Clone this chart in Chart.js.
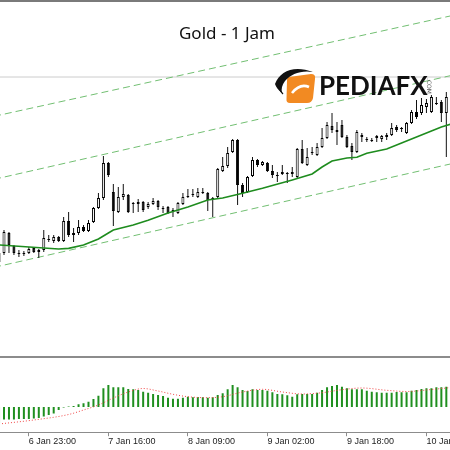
<!DOCTYPE html>
<html>
<head>
<meta charset="utf-8">
<title>Gold - 1 Jam</title>
<script src="https://cdn.jsdelivr.net/npm/chart.js@4.4.1/dist/chart.umd.min.js"></script>
<style>
    html, body { margin: 0; padding: 0; background: #fff; }
    #wrap { position: relative; width: 450px; height: 450px; overflow: hidden; background: #fff; }
    #priceCanvas { position: absolute; left: 0; top: 0; }
    #oscCanvas { position: absolute; left: 0; top: 358px; }
    #topBorder { position: absolute; left: 0; top: 0; width: 450px; border-top: 2px solid #7a7a7a; }
    #separator { position: absolute; left: 0; top: 356px; width: 450px; border-top: 2px solid #8c8c8c; }
    #chartTitle {
        position: absolute; left: 0; top: 23px; width: 454px; text-align: center;
        font-family: "Noto Sans", sans-serif; font-size: 17px; line-height: 20px; color: #111;
    }
    #logoIcon { position: absolute; left: 272px; top: 62px; }
    #logoText {
        position: absolute; left: 319px; top: 72px;
        font-family: Lato, sans-serif; font-weight: 700; font-size: 26px; line-height: 26px; color: #111;
    }
    #logoCom {
        position: absolute; left: 426px; top: 78px; writing-mode: vertical-rl;
        font-family: "DejaVu Sans", sans-serif; font-size: 6px; color: #555;
    }
</style>
</head>
<body>
<div id="wrap">
    <canvas id="priceCanvas" width="450" height="356"></canvas>
    <canvas id="oscCanvas" width="450" height="92"></canvas>
    <div id="topBorder"></div>
    <div id="separator"></div>
    <div id="chartTitle">Gold - 1 Jam</div>
    <svg id="logoIcon" width="46" height="44" viewBox="0 0 46 44">
        <path d="M17 15 L39 12 Q44 12 43 17 L41 36 Q40 41 35 41 L18 41 Q14 41 14.5 37 L15 19 Q15 15 17 15 Z" fill="#f28a22"/>
        <path d="M20 31 Q28 21 37 25" stroke="#fff" stroke-width="2.6" fill="none"/>
        <path d="M3 22 C 8 9, 22 3, 41 10 C 29 8, 19 12, 13 19 C 10 23, 9 27, 10 31 C 6 28, 4 25, 3 22 Z" fill="#111"/>
        <path d="M6 20 C 6 25, 8 29, 11 32" stroke="#111" stroke-width="1.2" fill="none"/>
    </svg>
    <div id="logoText">PEDIAFX</div>
    <div id="logoCom">.COM</div>
</div>
<script>
// hourly bars, first visible bar sits just off the left edge
const firstBar = -1;

const openPrices = [
    2641.4, 2644.1, 2650.1, 2646.2, 2644.1, 2643.8, 2644.1, 2645.6, 2644.4, 2645.0, 2648.0,
    2647.7, 2648.9, 2647.7, 2653.7, 2649.5, 2650.1, 2651.9, 2650.7, 2653.4, 2657.6,
    2660.6, 2671.1, 2662.4, 2656.4, 2660.9, 2661.5, 2659.1, 2658.8, 2659.4, 2657.9,
    2658.8, 2659.7, 2657.6, 2657.9, 2657.0, 2656.1, 2658.8, 2660.9, 2661.5, 2660.9,
    2662.1, 2662.1, 2660.0, 2660.9, 2668.7, 2670.2, 2674.4, 2678.0, 2664.5, 2662.4,
    2667.2, 2672.0, 2670.5, 2671.1, 2668.7, 2667.5, 2667.8, 2668.1, 2668.4, 2666.9,
    2675.3, 2670.5, 2674.1, 2673.5, 2675.9, 2678.6, 2682.2, 2681.0, 2682.5, 2678.9,
    2676.2, 2674.4, 2678.9, 2678.0, 2677.7, 2679.2, 2678.3, 2678.9, 2679.5, 2681.9,
    2681.3, 2680.1, 2683.1, 2686.4, 2686.1, 2687.9, 2686.4, 2688.8, 2689.4, 2686.1,
];
const highPrices = [
    2645.0, 2651.0, 2650.4, 2646.5, 2645.0, 2644.7, 2645.9, 2645.9, 2645.3, 2651.0, 2649.5,
    2649.5, 2649.2, 2654.9, 2656.4, 2651.6, 2654.0, 2652.5, 2654.0, 2657.9, 2662.1,
    2673.2, 2671.4, 2664.8, 2663.9, 2664.8, 2661.8, 2659.4, 2660.3, 2659.7, 2659.4,
    2660.6, 2660.0, 2658.2, 2658.2, 2657.6, 2659.4, 2662.1, 2663.3, 2663.3, 2663.6,
    2663.6, 2662.4, 2660.9, 2669.6, 2672.9, 2675.9, 2678.3, 2678.3, 2665.1, 2667.2,
    2672.9, 2672.3, 2671.7, 2671.4, 2670.5, 2668.4, 2670.5, 2668.4, 2669.9, 2675.6,
    2678.0, 2675.6, 2675.9, 2677.1, 2681.6, 2683.4, 2686.1, 2683.4, 2684.0, 2679.5,
    2677.1, 2681.0, 2680.1, 2678.9, 2678.6, 2679.5, 2679.5, 2680.1, 2683.1, 2682.5,
    2681.9, 2683.4, 2687.0, 2690.0, 2690.6, 2690.3, 2691.5, 2690.9, 2690.0, 2692.4,
];
const lowPrices = [
    2640.5, 2643.5, 2644.1, 2643.5, 2642.9, 2643.2, 2643.8, 2644.1, 2642.6, 2644.4, 2647.4,
    2647.1, 2647.4, 2647.4, 2648.9, 2647.4, 2649.5, 2650.4, 2650.4, 2653.1, 2657.3,
    2660.0, 2666.9, 2652.2, 2656.1, 2660.0, 2656.1, 2656.1, 2656.4, 2656.4, 2657.3,
    2658.5, 2657.0, 2656.1, 2655.8, 2654.9, 2655.8, 2658.5, 2660.6, 2660.9, 2660.6,
    2661.8, 2656.7, 2654.9, 2660.6, 2668.4, 2669.6, 2674.1, 2658.5, 2660.9, 2662.1,
    2666.9, 2669.9, 2670.2, 2668.4, 2666.6, 2665.4, 2667.5, 2665.1, 2666.9, 2666.6,
    2670.8, 2670.2, 2673.5, 2673.2, 2675.6, 2678.3, 2680.1, 2676.5, 2678.6, 2675.6,
    2672.0, 2674.1, 2677.4, 2677.4, 2677.4, 2677.4, 2677.4, 2678.0, 2679.2, 2680.4,
    2680.4, 2679.8, 2682.8, 2684.3, 2685.5, 2686.1, 2686.1, 2688.5, 2683.4, 2672.9,
];
const closePrices = [
    2644.1, 2650.4, 2646.5, 2644.1, 2643.8, 2644.1, 2645.3, 2644.4, 2645.0, 2648.6, 2648.3,
    2648.9, 2647.7, 2653.7, 2649.5, 2650.1, 2651.9, 2650.7, 2653.1, 2657.6, 2660.6,
    2671.1, 2667.5, 2656.7, 2660.9, 2661.8, 2656.4, 2658.8, 2659.4, 2657.0, 2658.8,
    2659.7, 2657.9, 2657.3, 2656.1, 2656.7, 2659.1, 2660.9, 2661.2, 2661.8, 2662.4,
    2662.4, 2660.0, 2660.6, 2669.3, 2670.2, 2674.1, 2678.0, 2664.5, 2662.1, 2666.9,
    2672.0, 2670.5, 2671.4, 2668.7, 2667.5, 2667.2, 2668.4, 2667.8, 2667.8, 2675.3,
    2671.1, 2672.9, 2674.4, 2675.9, 2678.6, 2682.5, 2681.0, 2680.4, 2678.9, 2675.9,
    2674.4, 2680.4, 2679.5, 2678.3, 2678.0, 2678.6, 2679.2, 2679.5, 2681.6, 2681.0,
    2681.6, 2683.1, 2686.4, 2684.9, 2688.5, 2689.1, 2690.9, 2689.1, 2686.1, 2690.9,
];

// moving average read at a few bars
const maBars = [-1, 8, 11, 13, 16, 19, 21, 22, 26, 29, 33, 37, 41, 44, 48, 52, 58, 62, 64, 66, 69, 71, 73, 77, 80, 83, 86, 88, 90];
const maValues = [
    2646.5, 2645.6, 2645.3, 2645.5, 2646.5, 2648.3, 2650.1, 2651.0, 2652.5, 2653.9,
    2656.1, 2657.9, 2660.0, 2660.6, 2662.0, 2663.5, 2666.0, 2667.8, 2669.9, 2671.7,
    2672.6, 2672.8, 2674.0, 2675.3, 2677.1, 2678.9, 2680.7, 2681.9, 2682.8,
];

// channel lines (start/end bar) and the horizontal level
const channelBars = [-2, 91];
const channelTop = [2685.1, 2715.6];
const channelMid = [2666.2, 2697.7];
const channelLow = [2639.8, 2671.2];
const levelPrice = 2696.9;

// oscillator histogram and its signal
const histValues = [
    -1.6, -1.25, -1.25, -1.25, -1.2, -1.2, -1.2, -1.15, -1.1, -0.95, -0.8,
    -0.65, -0.3, -0.05, 0.05, 0.1, 0.27, 0.37, 0.53, 0.8, 1.13,
    1.87, 2.2, 1.97, 1.97, 1.97, 1.8, 1.77, 1.7, 1.53, 1.43,
    1.3, 1.2, 1.1, 0.93, 0.83, 0.83, 0.93, 1.03, 0.97, 1.0,
    0.97, 0.93, 0.97, 1.2, 1.37, 1.77, 2.2, 1.97, 1.7, 1.6,
    1.77, 1.7, 1.7, 1.63, 1.47, 1.3, 1.27, 1.17, 1.03, 1.27,
    1.3, 1.3, 1.3, 1.43, 1.7, 1.97, 2.1, 2.2, 2.03, 1.87,
    1.77, 1.77, 1.77, 1.63, 1.53, 1.47, 1.43, 1.43, 1.43, 1.5,
    1.47, 1.47, 1.63, 1.7, 1.8, 1.87, 1.87, 1.97, 1.97, 2.03,
];
const signalBars = [-1, 6, 13, 16, 19, 22, 25, 28, 31, 34, 37, 41, 44, 48, 52, 56, 60, 64, 68, 72, 77, 81, 86, 90];
const signalValues = [
    -1.7, -1.3, -0.75, -0.3, 0.2, 0.9, 1.5, 1.85, 1.6, 1.27, 1.03, 0.93,
    1.03, 1.5, 1.77, 1.5, 1.3, 1.43, 1.73, 1.9, 1.67, 1.55, 1.75, 1.95,
];

const tickBars = [5, 21, 37, 53, 69, 85];
const tickLabels = ["6 Jan 23:00", "7 Jan 16:00", "8 Jan 09:00", "9 Jan 02:00", "9 Jan 18:00", "10 Jan 11:00"];

const xMin = -0.805;
const xMax = 89.74;

const barIndex = openPrices.map((_, k) => firstBar + k);

function pairs(xs, ys) {
    return xs.map((x, k) => ({ x: x, y: ys[k] }));
}

function channelLine(values) {
    return {
        type: "line",
        data: pairs(channelBars, values),
        borderColor: "#72bf72",
        borderWidth: 1,
        borderDash: [7, 4],
        pointRadius: 0,
        order: 3,
    };
}

function buildPriceChart() {
    const bodyData = barIndex.map((x, k) => ({ x: x, y: [openPrices[k], closePrices[k]] }));
    const wickData = barIndex.map((x, k) => ({ x: x, y: [lowPrices[k], highPrices[k]] }));
    const bodyColors = barIndex.map((_, k) => (closePrices[k] >= openPrices[k] ? "#ffffff" : "#000000"));

    new Chart(document.getElementById("priceCanvas"), {
        type: "bar",
        data: {
            datasets: [
                {
                    type: "line",
                    data: pairs(maBars, maValues),
                    borderColor: "#1e8c1e",
                    borderWidth: 1.6,
                    pointRadius: 0,
                    order: 0,
                },
                {
                    data: bodyData,
                    backgroundColor: bodyColors,
                    borderColor: "#000",
                    borderWidth: 1,
                    borderSkipped: false,
                    barThickness: 3,
                    inflateAmount: 0,
                    grouped: false,
                    order: 1,
                },
                {
                    data: wickData,
                    backgroundColor: "#111",
                    barThickness: 1,
                    inflateAmount: 0,
                    grouped: false,
                    order: 2,
                },
                channelLine(channelTop),
                channelLine(channelMid),
                channelLine(channelLow),
                {
                    type: "line",
                    data: pairs(channelBars, [levelPrice, levelPrice]),
                    borderColor: "#cccccc",
                    borderWidth: 1,
                    pointRadius: 0,
                    order: 4,
                },
            ],
        },
        options: {
            responsive: false,
            animation: false,
            devicePixelRatio: 1,
            layout: { padding: 0 },
            plugins: { legend: { display: false }, tooltip: { enabled: false } },
            scales: {
                x: { type: "linear", min: xMin, max: xMax, bounds: "data", offset: false, display: false, grid: { offset: false } },
                y: { type: "linear", min: 2613.2, max: 2720, bounds: "data", display: false },
            },
        },
    });
}

function buildOscChart() {
    new Chart(document.getElementById("oscCanvas"), {
        type: "bar",
        data: {
            datasets: [
                {
                    type: "line",
                    data: pairs(signalBars, signalValues),
                    borderColor: "rgba(240, 70, 70, 1)",
                    borderWidth: 1,
                    borderDash: [1, 2],
                    cubicInterpolationMode: "monotone",
                    pointRadius: 0,
                    order: 0,
                },
                {
                    data: pairs(barIndex, histValues),
                    backgroundColor: "#1f8f1f",
                    barThickness: 2,
                    inflateAmount: 0,
                    grouped: false,
                    order: 1,
                },
            ],
        },
        options: {
            responsive: false,
            animation: false,
            devicePixelRatio: 1,
            layout: { padding: { left: 0, right: 0, top: 0, bottom: 3 } },
            plugins: { legend: { display: false }, tooltip: { enabled: false } },
            scales: {
                x: {
                    type: "linear",
                    min: xMin,
                    max: xMax,
                    bounds: "data",
                    offset: false,
                    afterBuildTicks: (axis) => {
                        axis.ticks = tickBars.map((v) => ({ value: v }));
                    },
                    afterFit: (axis) => {
                        axis.paddingLeft = 0;
                        axis.paddingRight = 0;
                    },
                    ticks: {
                        autoSkip: false,
                        maxRotation: 0,
                        align: "start",
                        padding: 0,
                        color: "#1c1c1c",
                        font: { family: "Liberation Sans", size: 9 },
                        callback: (value) => tickLabels[tickBars.indexOf(value)],
                    },
                    grid: { offset: false, drawOnChartArea: false, tickLength: 4, color: "#8c8c8c" },
                    border: { color: "#8c8c8c" },
                },
                y: { type: "linear", min: -2.52, max: 4.9, bounds: "data", display: false },
            },
        },
    });
}

buildPriceChart();
buildOscChart();
</script>
</body>
</html>
